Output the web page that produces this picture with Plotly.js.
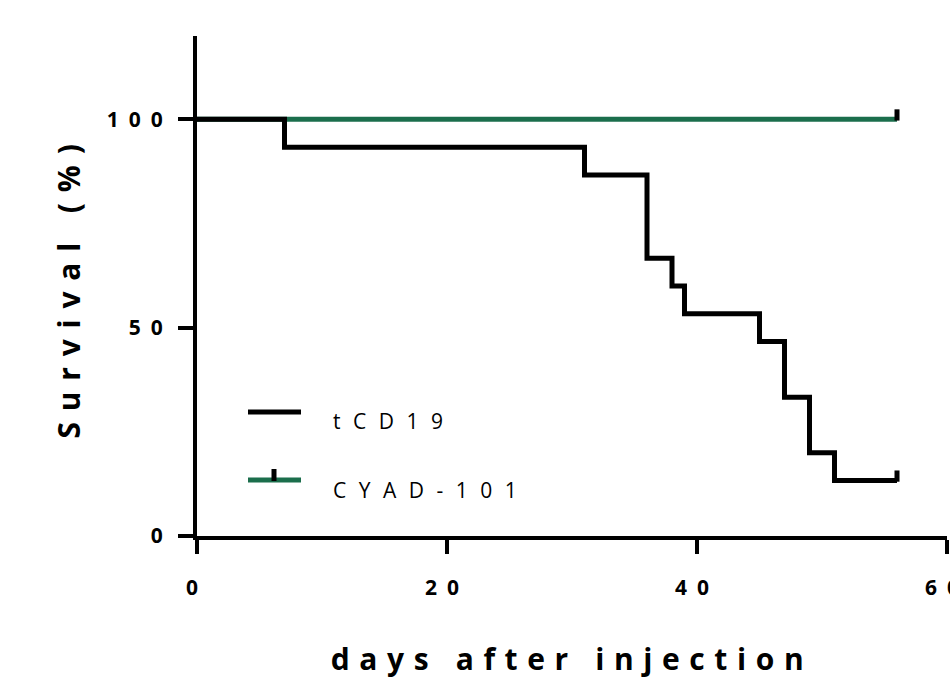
<!DOCTYPE html>
<html>
<head>
<meta charset="utf-8">
<script src="https://cdn.plot.ly/plotly-3.0.1.min.js"></script>
<style>
  html, body { margin: 0; padding: 0; background: #fff; }
  #chart { width: 950px; height: 688px; }
  .xtick text, .ytick text { letter-spacing: 10px; }
  text.xtitle { letter-spacing: 9.6px; }
  text.ytitle { letter-spacing: 10.8px; }
  .annotation-text { letter-spacing: 12.5px; }
</style>
</head>
<body>
<div id="chart"></div>
<script>
// Kaplan-Meier data (days after injection, survival %)
const tcd19Days = [0, 7, 31, 36, 38, 39, 45, 47, 49, 51, 56];
const tcd19Surv = [100, 93.33, 86.67, 66.67, 60, 53.33, 46.67, 33.33, 20, 13.33, 13.33];
const cyadDays = [0, 56];
const cyadSurv = [100, 100];
const seriesNames = ['tCD19', 'CYAD-101'];
const xTickVals = [0, 20, 40, 60];
const yTickVals = [0, 50, 100];

const black = '#000000';
const green = '#1b6e4c';
const censorLen = 2.4; // tick height in % units

function censor(days, surv, color) {
  const x = days[days.length - 1];
  const y = surv[surv.length - 1];
  return {
    x: [x, x], y: [y - 0.3, y + censorLen], mode: 'lines', type: 'scatter',
    line: { color: color, width: 5 }, showlegend: false, hoverinfo: 'skip'
  };
}

const traces = [
  { x: cyadDays, y: cyadSurv, name: seriesNames[1], mode: 'lines', type: 'scatter',
    line: { color: green, width: 5, shape: 'hv' } },
  censor(cyadDays, cyadSurv, black),
  { x: tcd19Days, y: tcd19Surv, name: seriesNames[0], mode: 'lines', type: 'scatter',
    line: { color: black, width: 5, shape: 'hv' } },
  censor(tcd19Days, tcd19Surv, black)
];

const L = 197, R = 3, T = 36, B = 152;
const pw = 950 - L - R, ph = 688 - T - B;
function px(xp) { return (xp - L) / pw; }
function py(yp) { return (688 - B - yp) / ph; }

const layout = {
  width: 950, height: 688,
  margin: { l: L, r: R, t: T, b: B },
  paper_bgcolor: '#fff', plot_bgcolor: '#fff',
  showlegend: false,
  font: { family: 'Open Sans, sans-serif', color: '#000' },
  xaxis: {
    range: [0, 60], tickvals: xTickVals, ticktext: xTickVals.map(String),
    ticks: 'outside', ticklen: 14, tickwidth: 4, tickcolor: '#000',
    showline: true, linewidth: 4, linecolor: '#000', showgrid: false, zeroline: false,
    tickfont: { size: 21, weight: 'bold', color: '#000' },
    ticklabelstandoff: 16, ticklabeloverflow: 'allow',
    title: { text: 'days after injection', font: { size: 30, weight: 'bold', color: '#000' }, standoff: 50 },
    fixedrange: true
  },
  yaxis: {
    range: [0, 120], tickvals: yTickVals, ticktext: yTickVals.map(String),
    ticks: 'outside', ticklen: 15, tickwidth: 4, tickcolor: '#000',
    showline: true, linewidth: 4, linecolor: '#000', showgrid: false, zeroline: false,
    tickfont: { size: 21, weight: 'bold', color: '#000' },
    ticklabelstandoff: 1, ticklabeloverflow: 'allow',
    title: { text: 'Survival (%)', font: { size: 30, weight: 'bold', color: '#000' }, standoff: 18 },
    fixedrange: true
  },
  shapes: [
    { type: 'line', xref: 'paper', yref: 'paper', x0: px(248), x1: px(301), y0: py(412), y1: py(412),
      line: { color: black, width: 5 } },
    { type: 'line', xref: 'paper', yref: 'paper', x0: px(248), x1: px(301), y0: py(480), y1: py(480),
      line: { color: green, width: 5 } },
    { type: 'line', xref: 'paper', yref: 'paper', x0: px(274), x1: px(274), y0: py(481), y1: py(469),
      line: { color: black, width: 5 } }
  ],
  annotations: [
    { xref: 'paper', yref: 'paper', x: px(331), y: py(421), xanchor: 'left', yanchor: 'middle',
      text: seriesNames[0], showarrow: false, font: { size: 21, color: '#000' } },
    { xref: 'paper', yref: 'paper', x: px(331), y: py(490), xanchor: 'left', yanchor: 'middle',
      text: seriesNames[1], showarrow: false, font: { size: 21, color: '#000' } }
  ]
};

Plotly.newPlot('chart', traces, layout, { displayModeBar: false, staticPlot: true });
</script>
</body>
</html>
